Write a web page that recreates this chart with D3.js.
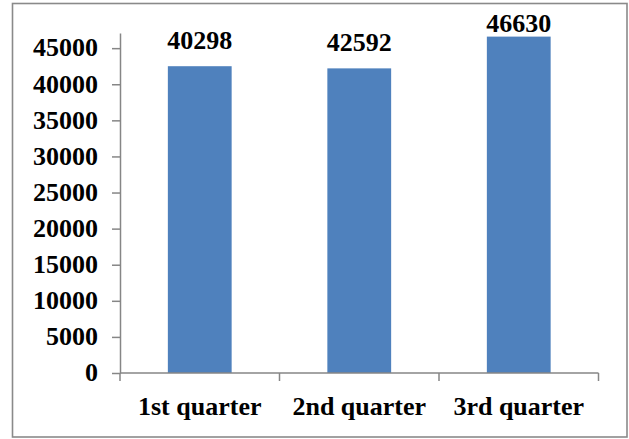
<!DOCTYPE html>
<html>
<head>
<meta charset="utf-8">
<script src="https://cdn.jsdelivr.net/npm/d3@7"></script>
<style>
  html, body { margin: 0; padding: 0; background: #fff; }
  svg { display: block; }
  text { font-family: "Liberation Serif", "Times New Roman", serif; font-weight: bold; fill: #000; }
</style>
</head>
<body>
<svg id="chart" width="629" height="439"></svg>
<script>
// Data
const categories = ["1st quarter", "2nd quarter", "3rd quarter"];
const barValues = [42500, 42200, 46600];          // heights of the drawn bars
const labelTexts = ["40298", "42592", "46630"];   // data labels as printed
const yTicks = [0, 5000, 10000, 15000, 20000, 25000, 30000, 35000, 40000, 45000];
const yMax = 47100;

(function () {
const svg = d3.select("#chart");

// outer frame
svg.append("rect")
  .attr("x", 12.5).attr("y", 3.5)
  .attr("width", 614.5).attr("height", 433.5)
  .attr("fill", "#fff")
  .attr("stroke", "#8a8a8a")
  .attr("stroke-width", 1.6);

const pLeft = 120, pRight = 598.5, pTop = 33, pBottom = 373;

const x = d3.scaleBand().domain(categories).range([pLeft, pRight]).paddingInner(0.6).paddingOuter(0.3);
const y = d3.scaleLinear().domain([0, yMax]).range([pBottom, pTop]);

// bars
svg.append("g").selectAll("rect")
  .data(categories)
  .join("rect")
  .attr("x", d => x(d))
  .attr("width", x.bandwidth())
  .attr("y", (d, i) => y(barValues[i]))
  .attr("height", (d, i) => y(0) - y(barValues[i]))
  .attr("fill", "#4F81BD");

// y axis
const yAxis = svg.append("g")
  .attr("transform", `translate(${pLeft},0)`)
  .call(d3.axisLeft(y).tickValues(yTicks).tickFormat(d3.format("d")).tickSizeInner(8).tickSizeOuter(0).tickPadding(14));
yAxis.select(".domain").attr("stroke", "#868686").attr("stroke-width", 1.5);
yAxis.selectAll(".tick line").attr("stroke", "#868686").attr("stroke-width", 1.5);
yAxis.selectAll(".tick text")
  .attr("font-size", 26)
  .attr("font-family", "Liberation Serif, Times New Roman, serif")
  .attr("font-weight", "bold")
  .attr("fill", "#000")
  .attr("dy", "0.3em");

// x axis (ticks between categories)
const bandEdges = d3.range(categories.length + 1).map(i => pLeft + i * (pRight - pLeft) / categories.length);
const xg = svg.append("g");
xg.append("line")
  .attr("x1", pLeft).attr("x2", pRight)
  .attr("y1", pBottom).attr("y2", pBottom)
  .attr("stroke", "#868686").attr("stroke-width", 1.5);
xg.selectAll("line.tk")
  .data(bandEdges)
  .join("line")
  .attr("class", "tk")
  .attr("x1", d => d).attr("x2", d => d)
  .attr("y1", pBottom).attr("y2", pBottom + 8)
  .attr("stroke", "#868686").attr("stroke-width", 1.5);
xg.selectAll("text")
  .data(categories)
  .join("text")
  .attr("x", d => x(d) + x.bandwidth() / 2)
  .attr("y", 415)
  .attr("text-anchor", "middle")
  .attr("font-size", 26)
  .text(d => d);

// data labels
svg.append("g").selectAll("text")
  .data(categories)
  .join("text")
  .attr("x", d => x(d) + x.bandwidth() / 2)
  .attr("y", (d, i) => Math.max(y(barValues[i]) - 17, 31.5))
  .attr("text-anchor", "middle")
  .attr("font-size", 26)
  .text((d, i) => labelTexts[i]);
})();
</script>
</body>
</html>
